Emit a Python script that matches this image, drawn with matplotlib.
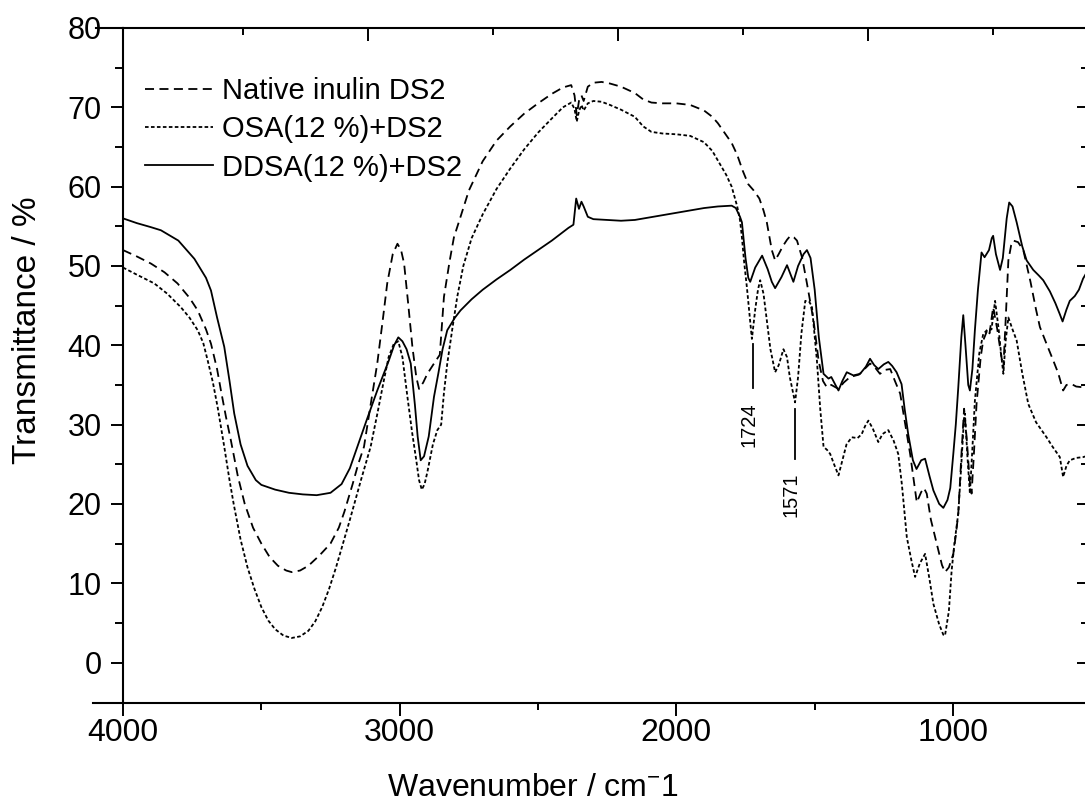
import numpy as np
import matplotlib.pyplot as plt
import matplotlib.ticker as mticker

plt.rcParams['font.family'] = ['Liberation Sans', 'DejaVu Sans']
plt.rcParams['mathtext.fontset'] = 'custom'
plt.rcParams['mathtext.rm'] = 'Liberation Sans'
plt.rcParams['mathtext.default'] = 'regular'

# --- data (wavenumber / cm-1, transmittance / %) ---
ddsa_wn = [4000, 3950, 3900, 3863, 3800, 3742, 3700, 3682, 3660, 3634, 3615, 3598, 3575, 3550,
           3520, 3500, 3450, 3400, 3350, 3300, 3250, 3210, 3180, 3153, 3120, 3081, 3040, 3020,
           3005, 2990, 2975, 2960, 2945, 2935, 2924, 2912, 2895, 2876, 2860, 2845, 2828, 2800,
           2780, 2740, 2700, 2650, 2600, 2550, 2500, 2450, 2420, 2390, 2372, 2362, 2352, 2343,
           2335, 2320, 2300, 2250, 2200, 2150, 2100, 2050, 2000, 1950, 1900, 1850, 1800, 1785,
           1770, 1763, 1750, 1740, 1733, 1715, 1690, 1670, 1655, 1643, 1620, 1600, 1588, 1577,
           1560, 1540, 1528, 1515, 1500, 1485, 1468, 1450, 1440, 1425, 1414, 1400, 1384, 1360,
           1336, 1315, 1300, 1285, 1270, 1250, 1234, 1220, 1204, 1186, 1175, 1162, 1145, 1132,
           1115, 1101, 1085, 1071, 1050, 1035, 1020, 1010, 999, 990, 981, 970, 963, 955, 945,
           939, 930, 921, 910, 897, 886, 870, 860, 855, 845, 830, 820, 806, 797, 785, 770, 750,
           734, 710, 690, 674, 650, 630, 615, 604, 590, 578, 560, 545, 530, 520]
ddsa_t = [56.0, 55.4, 54.9, 54.5, 53.2, 50.9, 48.5, 46.9, 43.5, 39.8, 35.5, 31.4, 27.5, 24.8,
          23.0, 22.4, 21.8, 21.4, 21.2, 21.1, 21.4, 22.5, 24.5, 27.2, 30.5, 34.3, 38.0, 40.0,
          41.0, 40.5, 39.5, 37.7, 32.5, 28.5, 25.5, 26.0, 28.5, 33.5, 36.5, 39.5, 41.9, 43.5,
          44.4, 45.8, 47.0, 48.3, 49.5, 50.8, 52.0, 53.2, 54.0, 54.8, 55.2, 58.5, 57.2, 58.1,
          57.5, 56.2, 55.9, 55.8, 55.7, 55.8, 56.1, 56.4, 56.7, 57.0, 57.3, 57.5, 57.6, 57.3,
          56.2, 55.5, 51.0, 48.5, 48.0, 49.8, 51.3, 49.6, 48.0, 47.2, 48.6, 50.1, 49.0, 48.0,
          50.0, 51.5, 52.0, 51.0, 47.0, 41.0, 36.4, 35.8, 36.0, 35.0, 34.3, 35.5, 36.6, 36.2,
          36.4, 37.3, 38.3, 37.5, 37.0, 37.6, 37.9, 37.4, 36.6, 35.1, 32.0, 28.8, 25.5, 24.4,
          25.5, 25.7, 23.5, 21.7, 20.0, 19.5, 20.5, 22.0, 26.3, 30.0, 34.7, 41.0, 43.8, 40.0, 35.0,
          34.3, 37.0, 41.9, 47.0, 51.7, 51.1, 52.0, 53.5, 53.8, 51.5, 49.5, 51.0, 56.0, 58.0, 57.5,
          55.5, 52.5, 50.7, 49.5, 48.8, 48.2, 46.8, 45.3, 44.0, 43.0, 44.5, 45.6, 46.2, 47.0,
          48.4, 49.0]

native_wn = [4000, 3950, 3899, 3850, 3803, 3760, 3730, 3700, 3682, 3660, 3646, 3628, 3610, 3585,
             3560, 3530, 3500, 3470, 3440, 3410, 3390, 3360, 3330, 3290, 3250, 3220, 3200, 3170,
             3150, 3129, 3105, 3081, 3060, 3045, 3025, 3008, 2995, 2984, 2970, 2954, 2940, 2930,
             2915, 2900, 2876, 2855, 2840, 2820, 2804, 2780, 2750, 2700, 2650, 2600, 2550, 2500,
             2450, 2410, 2380, 2368, 2360, 2352, 2343, 2335, 2320, 2300, 2270, 2240, 2200, 2150,
             2120, 2090, 2050, 2000, 1950, 1900, 1870, 1850, 1820, 1800, 1780, 1760, 1740, 1720,
             1700, 1685, 1673, 1655, 1643, 1630, 1615, 1600, 1588, 1575, 1564, 1545, 1528, 1504,
             1486, 1470, 1456, 1440, 1414, 1395, 1372, 1340, 1320, 1300, 1282, 1264, 1245, 1227,
             1210, 1191, 1175, 1155, 1140, 1131, 1115, 1105, 1095, 1080, 1059, 1040, 1029, 1015,
             999, 990, 981, 970, 960, 950, 940, 933, 925, 915, 900, 891, 875, 868, 855, 840, 825,
             818, 810, 800, 790, 782, 765, 746, 720, 700, 686, 660, 638, 620, 602, 590, 571, 555,
             530, 520]
native_t = [52.0, 51.2, 50.3, 49.2, 47.8, 46.0, 44.4, 42.0, 40.2, 37.0, 34.3, 31.0, 28.0, 23.5,
            20.0, 17.0, 15.0, 13.3, 12.2, 11.6, 11.4, 11.6, 12.2, 13.5, 15.0, 17.0, 19.0, 22.5,
            25.0, 27.2, 32.5, 37.7, 43.5, 47.8, 51.5, 52.8, 52.0, 50.3, 45.5, 39.8, 36.0, 34.5,
            35.3, 36.4, 37.7, 38.8, 46.1, 50.5, 53.6, 56.2, 59.5, 63.2, 65.8, 67.6, 69.2, 70.5,
            71.7, 72.5, 72.8, 71.5, 69.0, 70.8, 71.5, 70.8, 72.6, 73.1, 73.2, 73.0, 72.6, 71.8,
            71.0, 70.6, 70.5, 70.5, 70.3, 69.6, 68.8, 68.0, 66.5, 65.5, 64.0, 62.0, 60.3, 59.5,
            58.5, 57.0, 55.5, 52.0, 50.7, 51.5, 52.5, 53.3, 53.8, 53.6, 53.2, 51.0, 47.8, 43.1,
            38.1, 35.5, 34.7, 35.0, 34.5, 35.3, 36.0, 36.3, 37.0, 37.7, 37.2, 36.4, 36.9, 37.0,
            35.5, 33.9, 30.5, 26.3, 22.5, 20.2, 21.5, 22.0, 21.3, 18.0, 15.0, 12.3, 11.4, 12.0,
            13.7, 16.0, 18.8, 26.0, 32.0, 28.0, 23.0, 21.3, 26.0, 32.6, 38.5, 40.6, 42.0, 41.5,
            44.8, 42.0, 38.5, 37.2, 43.0, 50.7, 52.6, 53.2, 53.0, 52.0, 48.0, 44.5, 42.3, 40.0,
            38.1, 36.5, 34.3, 35.0, 35.1, 34.8, 34.7, 35.0]

osa_wn = [4000, 3950, 3887, 3840, 3791, 3760, 3730, 3710, 3694, 3675, 3658, 3645, 3634, 3615,
          3600, 3575, 3550, 3525, 3500, 3475, 3450, 3420, 3390, 3360, 3330, 3305, 3280, 3255,
          3230, 3205, 3180, 3160, 3140, 3105, 3080, 3057, 3040, 3021, 3005, 2990, 2972, 2955,
          2940, 2930, 2920, 2910, 2900, 2880, 2864, 2850, 2840, 2828, 2810, 2792, 2770, 2740,
          2700, 2650, 2600, 2550, 2500, 2450, 2410, 2380, 2368, 2360, 2352, 2343, 2335, 2320,
          2300, 2270, 2240, 2200, 2150, 2120, 2090, 2050, 2000, 1950, 1900, 1870, 1850, 1820,
          1800, 1780, 1770, 1763, 1755, 1745, 1727, 1715, 1705, 1697, 1685, 1673, 1660, 1643,
          1630, 1613, 1600, 1590, 1571, 1560, 1548, 1534, 1520, 1510, 1492, 1480, 1468, 1455,
          1444, 1430, 1414, 1400, 1385, 1366, 1345, 1330, 1318, 1306, 1290, 1270, 1255, 1234,
          1215, 1198, 1185, 1167, 1150, 1137, 1120, 1101, 1085, 1071, 1050, 1035, 1029, 1015,
          1005, 995, 981, 970, 960, 957, 948, 939, 930, 921, 905, 891, 875, 861, 848, 835, 825,
          818, 810, 800, 785, 770, 750, 728, 700, 680, 662, 640, 614, 602, 590, 578, 555, 530, 520]
osa_t = [49.8, 48.9, 47.8, 46.5, 44.8, 43.5, 41.9, 40.3, 38.1, 35.3, 32.2, 29.5, 27.2, 23.0,
         20.0, 15.5, 12.0, 9.3, 7.0, 5.3, 4.2, 3.4, 3.1, 3.3, 4.0, 5.2, 7.0, 9.3,
         12.0, 15.0, 18.0, 20.5, 23.0, 27.2, 31.5, 35.6, 38.5, 40.2, 40.5, 38.5, 33.5, 29.0,
         25.5, 23.0, 21.8, 22.5, 24.0, 27.5, 29.3, 30.0, 34.0, 37.7, 42.0, 46.1, 50.0, 53.5,
         56.5, 59.7, 62.3, 64.7, 66.8, 68.6, 70.0, 70.6, 69.8, 68.2, 69.5, 70.3, 69.6, 70.5,
         70.8, 70.7, 70.3, 69.7, 68.8, 67.6, 66.9, 66.7, 66.6, 66.4, 65.6, 64.5, 63.3, 61.5,
         60.0, 57.5, 55.8, 53.6, 50.5, 47.3, 40.8, 44.5, 47.0, 48.2, 46.5, 43.1, 39.5, 36.6,
         37.5, 39.5, 38.5, 36.0, 32.8, 36.0, 41.5, 45.6, 45.5, 44.9, 38.1, 32.0, 27.2, 26.8,
         26.3, 25.0, 23.6, 25.5, 27.5, 28.4, 28.3, 28.8, 29.8, 30.5, 29.5, 27.8, 28.8, 29.3,
         28.0, 26.3, 22.5, 15.8, 12.8, 10.8, 12.5, 13.7, 10.5, 7.4, 4.8, 3.5, 3.4, 6.5,
         11.6, 15.0, 18.8, 25.0, 31.0, 31.4, 26.0, 21.3, 27.0, 33.0, 39.0, 41.4, 42.0, 42.0,
         45.6, 42.0, 38.5, 36.4, 40.5, 43.5, 42.0, 40.6, 36.5, 32.6, 30.3, 29.3, 28.4, 27.2,
         25.9, 23.4, 24.8, 25.5, 25.8, 25.9, 26.0]

# marked bands: wavenumber, line from/to, label centre
mark_wn = [1724, 1571]
mark_lo = [34.6, 25.7]
mark_hi = [40.2, 32.0]
mark_txt = [30.0, 21.2]

fig = plt.figure(figsize=(10.85, 8.05), dpi=100)
ax = fig.add_axes([123 / 1085, 102 / 805, 962 / 1085, 675 / 805])

ax.plot(native_wn, native_t, color='black', lw=1.3, dashes=(5, 3), label='Native inulin DS2')
ax.plot(osa_wn, osa_t, color='black', lw=1.3, dashes=(2, 1.3), label='OSA(12 %)+DS2')
ax.plot(ddsa_wn, ddsa_t, color='black', lw=1.3, label='DDSA(12 %)+DS2')

for wn, lo, hi, yt in zip(mark_wn, mark_lo, mark_hi, mark_txt):
    ax.plot([wn, wn], [lo, hi], color='black', lw=1.3)
    ax.text(wn + 15, yt, str(wn), rotation=90, ha='center', va='center', fontsize=14.5)

ax.set_xlim(4000, 523)
ax.set_ylim(-5.1, 80)

ax.xaxis.set_major_locator(mticker.MultipleLocator(1000))
ax.xaxis.set_minor_locator(mticker.MultipleLocator(500))
ax.yaxis.set_major_locator(mticker.FixedLocator(np.arange(0, 81, 10)))
ax.yaxis.set_minor_locator(mticker.FixedLocator(np.arange(5, 80, 10)))

ax.tick_params(axis='x', which='both', direction='out', top=False, labelsize=23, pad=2, width=1.4)
ax.tick_params(axis='x', which='major', length=9)
ax.tick_params(axis='x', which='minor', length=5)
ax.tick_params(axis='y', which='both', direction='out', right=False, labelsize=22, pad=7, width=1.4)
ax.tick_params(axis='y', which='major', length=8.5)
ax.tick_params(axis='y', which='minor', length=5.5)

for s in ['left', 'bottom', 'top']:
    ax.spines[s].set_linewidth(1.5)
ax.spines['right'].set_visible(False)

# the top axis of the scan has its own tick spacing
top = ax.twiny()
top.set_xlim(3980, 132)
top.xaxis.set_major_locator(mticker.MultipleLocator(1000))
top.xaxis.set_minor_locator(mticker.MultipleLocator(500))
top.tick_params(axis='x', which='both', direction='in', labeltop=False, width=1.4)
top.tick_params(axis='x', which='major', length=9)
top.tick_params(axis='x', which='minor', length=5)
for s in top.spines.values():
    s.set_visible(False)

# right side ticks only (frame cut off at the edge)
rgt = ax.secondary_yaxis('right')
rgt.yaxis.set_major_locator(mticker.FixedLocator(np.arange(0, 81, 10)))
rgt.yaxis.set_minor_locator(mticker.FixedLocator(np.arange(5, 80, 10)))
rgt.tick_params(which='both', direction='in', labelright=False, width=1.4)
rgt.tick_params(which='major', length=6)
rgt.tick_params(which='minor', length=3)
rgt.spines['right'].set_visible(False)

# frame lines of the scan run a little past the left spine
ax.plot([-0.031, 0], [0, 0], transform=ax.transAxes, color='black', lw=1.5, clip_on=False)
ax.plot([-0.028, 0], [1, 1], transform=ax.transAxes, color='black', lw=1.5, clip_on=False)

ax.set_xlabel(r'Wavenumber / cm$^{-}$1', fontsize=23)
ax.xaxis.set_label_coords((533 - 123) / 962, -0.104)
ax.set_ylabel('Transmittance / %', fontsize=24)
ax.yaxis.set_label_coords(-0.083, 0.553)

ax.legend(loc='upper left', bbox_to_anchor=(0.0229, 0.927), frameon=False, fontsize=21,
          borderpad=0, borderaxespad=0, handlelength=2.33, handletextpad=0.3, labelspacing=0.35)

fig.savefig('out.png', dpi=100)
